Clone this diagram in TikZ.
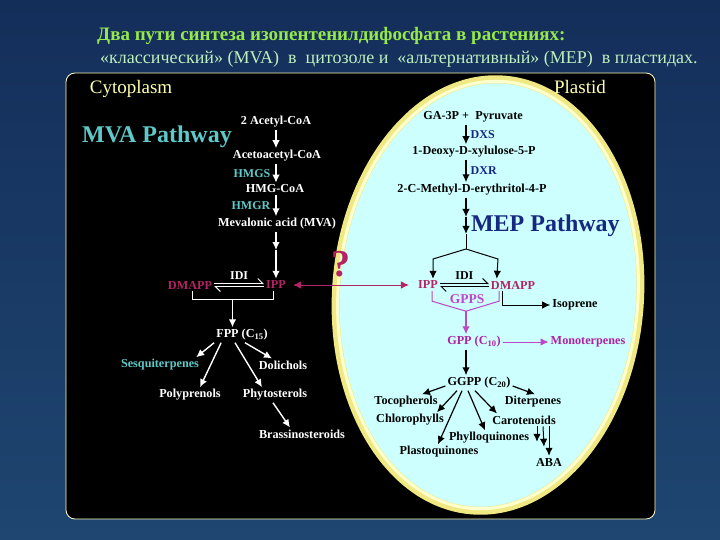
\documentclass[tikz,border=0pt]{standalone}
\usepackage{fontspec}
\setmainfont{Liberation Serif}
\usepackage{xcolor}
\usepackage{tikz}
\usetikzlibrary{arrows.meta,calc}
\definecolor{NocheTop}{RGB}{20,46,90}
\definecolor{NocheBot}{RGB}{30,70,112}
\definecolor{CianPlastido}{RGB}{205,255,255}
\definecolor{AmarilloMembrana}{RGB}{240,232,130}
\definecolor{AmarilloClaro}{RGB}{255,255,205}
\definecolor{CremaRotulo}{RGB}{255,255,175}
\definecolor{VerdeTitulo}{RGB}{150,232,75}
\definecolor{VerdeSub}{RGB}{190,240,190}
\definecolor{TurquesaVia}{RGB}{95,200,200}
\definecolor{RojoPrenilo}{RGB}{180,35,100}
\definecolor{VioletaGPP}{RGB}{190,70,200}
\definecolor{RosaGPP}{RGB}{175,35,160}
\definecolor{AzulMEP}{RGB}{22,40,130}

\begin{document}
\begin{tikzpicture}[x=1pt,y=-1pt,>={Latex[length=8pt,width=7.5pt]},
  met/.style={font=\bfseries\fontsize{12.2}{13}\selectfont,inner sep=2pt},
  enz/.style={font=\bfseries\fontsize{12}{13}\selectfont,inner sep=2pt},
  rotulo/.style={font=\fontsize{19}{21}\selectfont,text=CremaRotulo},
  via/.style={font=\bfseries\fontsize{24}{26}\selectfont},
  flecha/.style={->,line width=1.4pt}]
  \useasboundingbox (0,0) rectangle (720,540);
  \fill[top color=NocheTop,bottom color=NocheBot] (0,0) rectangle (720,540);
  % titulo
  \node[anchor=west,font=\bfseries\fontsize{19}{21}\selectfont,text=VerdeTitulo,inner sep=0pt] (titulo) at (97,36)
    {Два пути синтеза изопентенилдифосфата в растениях:};
  \node[anchor=west,font=\fontsize{18}{20}\selectfont,text=VerdeSub,inner sep=0pt] (subtitulo) at (100,59)
    {«классический» (MVA)\ \ в\ \ цитозоле и\ \ «альтернативный» (MEP)\ \ в пластидах.};
  % celula y plastido
  \draw[draw=CremaRotulo!70!white,line width=0.8pt,fill=black,rounded corners=9pt] (66,73) rectangle (655,519);
  \draw[fill=CianPlastido,draw=AmarilloMembrana,line width=8pt,rotate around={-4:(488,295)}]
    (488,295) ellipse [x radius=152,y radius=216];
  \draw[draw=AmarilloClaro,line width=3pt,rotate around={-4:(488,295)}]
    (488,295) ellipse [x radius=150,y radius=214];
  \node[rotulo] (cito) at (131,89) {Cytoplasm};
  \node[rotulo] (plast) at (580,87) {Plastid};
  % via MVA
  \node[via,text=TurquesaVia] (viamva) at (157,137) {MVA Pathway};
  \coordinate (colmva) at (276,0);
  \node[met,text=white] (acetil) at (276,122) {2 Acetyl-CoA};
  \node[met,text=white] (acac) at (277,156) {Acetoacetyl-CoA};
  \node[met,text=white] (hmgcoa) at (275,189) {HMG-CoA};
  \node[met,text=white] (mva) at (277,224) {Mevalonic acid (MVA)};
  \node[met,text=RojoPrenilo] (ipp) at (276,285) {IPP};
  \node[met,text=RojoPrenilo] (dmapp) at (190,285) {DMAPP};
  \coordinate (pasomva) at (276,250);
  \draw[flecha,white] (acetil.south -| colmva) -- (acac.north -| colmva);
  \draw[flecha,white] (acac.south -| colmva) -- node[left=3pt,enz,text=TurquesaVia] {HMGS} (hmgcoa.north -| colmva);
  \draw[flecha,white] (hmgcoa.south -| colmva) -- node[left=3pt,enz,text=TurquesaVia] {HMGR} (mva.north -| colmva);
  \draw[flecha,white] (mva.south -| colmva) -- (pasomva);
  \draw[flecha,white] (pasomva) -- (ipp);
  \draw[-{Straight Barb[left,length=5pt]},white,line width=1pt] ([yshift=1.5pt]dmapp.east) -- node[above=1pt,enz,text=white] {IDI} ([yshift=1.5pt]ipp.west);
  \draw[-{Straight Barb[left,length=5pt]},white,line width=1pt] ([yshift=-1.5pt]ipp.west) -- ([yshift=-1.5pt]dmapp.east);
  \draw[white,line width=1pt] ([xshift=2pt]dmapp.south) -- ++(0,8) -- coordinate (entfpp) ++(81,0) -- ++(0,-8);
  \node[met,text=white] (fpp) at (242,335) {FPP (C\textsubscript{15})};
  \draw[flecha,white] (entfpp) -- (entfpp |- fpp.north);
  \node[met,text=TurquesaVia] (sesq) at (160,365) {Sesquiterpenes};
  \node[met,text=white] (dol) at (283,365) {Dolichols};
  \node[met,text=white] (poli) at (190,395) {Polyprenols};
  \node[met,text=white] (fito) at (275,395) {Phytosterols};
  \node[met,text=white] (bras) at (302,434) {Brassinosteroids};
  \draw[flecha,white] (fpp.south west) -- ([xshift=-5pt]sesq.north east);
  \draw[flecha,white] ([xshift=7pt]fpp.south west) -- ([xshift=10pt]poli.north);
  \draw[flecha,white] ([xshift=-7pt]fpp.south) -- ([xshift=-13pt]fito.north);
  \draw[flecha,white] ([xshift=3pt]fpp.south) -- ([xshift=-11pt]dol.north);
  \draw[flecha,white] ([xshift=-2pt]fito.south) -- ([xshift=-12pt]bras.north);
  % via MEP
  \coordinate (colmep) at (466,0);
  \node[met] (gap) at (473,117) {GA-3P +\ \ Pyruvate};
  \node[met] (dxp) at (474,152) {1-Deoxy-D-xylulose-5-P};
  \node[met] (mep) at (472,190) {2-C-Methyl-D-erythritol-4-P};
  \coordinate (mepa) at (466,217);
  \coordinate (mepb) at (466,234);
  \coordinate (horq) at (466,249);
  \draw[flecha] (gap.south -| colmep) -- node[right=2pt,enz,text=AzulMEP] {DXS} (dxp.north -| colmep);
  \draw[flecha] (dxp.south -| colmep) -- node[right=2pt,enz,text=AzulMEP] {DXR} (mep.north -| colmep);
  \draw[flecha] (mep.south -| colmep) -- (mepa);
  \draw[flecha] (mepa) -- node[right=1pt,via,text=AzulMEP] {MEP Pathway} (mepb);
  \draw[line width=1pt] (mepb) -- (horq);
  \node[met,text=RojoPrenilo] (ippP) at (428,285) {IPP};
  \node[met,text=RojoPrenilo] (dmappP) at (513,285) {DMAPP};
  \draw[flecha,line width=1pt] (horq) -- ++(-33,10) -- ([xshift=5pt]ippP.north);
  \draw[flecha,line width=1pt] (horq) -- ++(32,10) -- ([xshift=8pt]dmappP.north west);
  \draw[-{Straight Barb[left,length=5pt]},line width=1pt] ([yshift=1.5pt]ippP.east) -- node[above=1pt,enz] {IDI} ([yshift=1.5pt]dmappP.west);
  \draw[-{Straight Barb[left,length=5pt]},line width=1pt] ([yshift=-1.5pt]dmappP.west) -- ([yshift=-1.5pt]ippP.east);
  \node[font=\bfseries\fontsize{13.5}{14}\selectfont,text=VioletaGPP] (gpps) at (467,299) {GPPS};
  \draw[VioletaGPP,line width=1pt] ([xshift=4pt]ippP.south) -- ++(0,10) -- ++(34,10) coordinate (entgpp) -- ++(33,-10) -- ++(0,-10);
  \node[met,text=RosaGPP] (gpp) at (474,342) {GPP (C\textsubscript{10})};
  \node[met,text=RosaGPP] (mono) at (588,342) {Monoterpenes};
  \node[met] (iso) at (575,305) {Isoprene};
  \draw[flecha,VioletaGPP] (entgpp) -- (entgpp |- gpp.north);
  \draw[flecha,VioletaGPP,line width=1pt] (gpp) -- (mono);
  \draw[flecha,line width=1pt] ([xshift=14pt]dmappP.south west) |- (iso);
  \node[met] (ggpp) at (479,383) {GGPP (C\textsubscript{20})};
  \draw[flecha,line width=1.2pt] (gpp.south -| entgpp) -- (entgpp |- ggpp.north);
  \node[met] (toco) at (406,402) {Tocopherols};
  \node[met] (diter) at (533,402) {Diterpenes};
  \node[met] (cloro) at (410,420) {Chlorophylls};
  \node[met] (caro) at (524,420) {Carotenoids};
  \node[met] (filo) at (489,438) {Phylloquinones};
  \node[met] (plasto) at (439,452) {Plastoquinones};
  \node[met] (aba) at (549,462) {ABA};
  \draw[flecha,line width=1.2pt] ([yshift=-3pt]ggpp.west) -- ([xshift=16pt]toco.north);
  \draw[flecha,line width=1.2pt] ([yshift=-3pt]ggpp.east) -- ([xshift=2pt]diter.north);
  \draw[flecha,line width=1.2pt] ([xshift=-22pt]ggpp.south) -- ([xshift=27pt]cloro.north);
  \draw[flecha,line width=1.2pt] ([xshift=-17pt]ggpp.south) -- ([xshift=-1pt]plasto.north);
  \draw[flecha,line width=1.2pt] ([xshift=-11pt]ggpp.south) -- ([xshift=-4pt]filo.north);
  \draw[flecha,line width=1.2pt] ([xshift=-4pt]ggpp.south) -- ([xshift=-27pt]caro.north);
  \draw[flecha,line width=1pt] ([xshift=13pt]caro.south) -- ([xshift=-12pt,yshift=14pt]aba.north);
  \draw[flecha,line width=1pt] ([xshift=19pt]caro.south) -- ([xshift=-5pt,yshift=9pt]aba.north);
  \draw[flecha,line width=1pt] ([xshift=25pt]caro.south) -- (aba.north);
  % transporte entre compartimentos
  \node[font=\bfseries\fontsize{38}{40}\selectfont,text=RojoPrenilo] (duda) at (341,264) {?};
  \draw[<->,RojoPrenilo,line width=1pt,shorten <=5pt,shorten >=7pt] (ipp) -- (ippP);
\end{tikzpicture}
\end{document}
